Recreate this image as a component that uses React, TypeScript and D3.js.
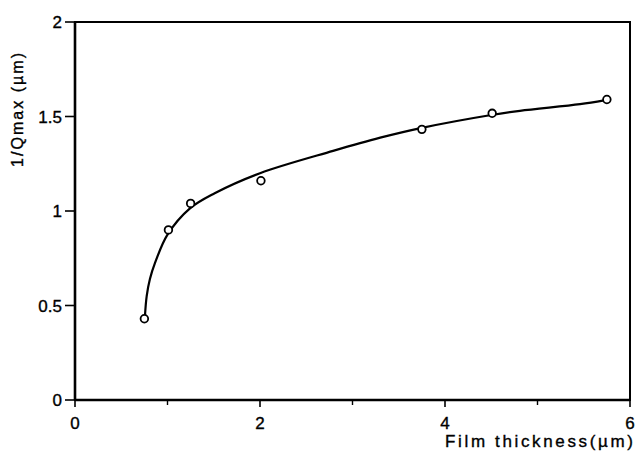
import React from "react";
import * as d3 from "d3";

const pointX = [0.75, 1.01, 1.25, 2.01, 3.75, 4.51, 5.75];
const pointY = [0.43, 0.9, 1.04, 1.16, 1.432, 1.517, 1.59];

const curveX = [0.757, 0.775, 0.81, 0.865, 1.0, 1.243, 1.51, 2.0, 2.79, 3.3, 3.75, 4.5, 4.81, 5.46, 5.72];
const curveY = [0.45, 0.55, 0.64, 0.725, 0.875, 1.014, 1.094, 1.2, 1.318, 1.388, 1.44, 1.508, 1.53, 1.565, 1.585];

const xTicks = [0, 2, 4, 6];
const xMinorTicks = [1, 3, 5];
const yTicks = [0, 0.5, 1, 1.5, 2];
const yTickLabels = ["0", "0.5", "1", "1.5", "2"];

export default function App() {
  const W = 643, H = 455;
  const left = 75, right = 630, top = 22, bottom = 400;
  const x = d3.scaleLinear().domain([0, 6]).range([left, right]);
  const y = d3.scaleLinear().domain([0, 2]).range([bottom, top]);
  const line = d3
    .line<number>()
    .x((_, i) => x(curveX[i]))
    .y((d) => y(d))
    .curve(d3.curveCatmullRom.alpha(0.5));
  const font = "'Liberation Sans', Arial, sans-serif";
  const txt = { fill: "#000", stroke: "#000", strokeWidth: 0.35 } as const;
  return (
    <svg
      width={W}
      height={H}
      style={{ position: "absolute", left: 0, top: 0, background: "#fff" }}
      fontFamily={font}
    >
      <rect x={0} y={0} width={W} height={H} fill="#fff" />
      {/* frame */}
      <rect x={left} y={top} width={right - left} height={bottom - top} fill="none" stroke="#000" strokeWidth={2} />
      <line x1={left} y1={top} x2={left} y2={bottom} stroke="#000" strokeWidth={2.6} />
      <line x1={left} y1={bottom} x2={right} y2={bottom} stroke="#000" strokeWidth={2.6} />
      {/* y ticks */}
      {yTicks.map((t, i) => (
        <g key={"y" + i}>
          <line x1={left - 10} x2={left} y1={y(t)} y2={y(t)} stroke="#000" strokeWidth={1.6} />
          <text x={62} y={y(t)} dy="0.36em" textAnchor="end" fontSize={17} {...txt}>
            {yTickLabels[i]}
          </text>
        </g>
      ))}
      {/* x ticks */}
      {xTicks.map((t, i) => (
        <g key={"x" + i}>
          <line x1={x(t)} x2={x(t)} y1={bottom} y2={bottom + 7} stroke="#000" strokeWidth={1.6} />
          <text x={x(t)} y={429} textAnchor="middle" fontSize={17} {...txt}>
            {t}
          </text>
        </g>
      ))}
      {xMinorTicks.map((t, i) => (
        <line key={"xm" + i} x1={x(t)} x2={x(t)} y1={bottom} y2={bottom + 5} stroke="#000" strokeWidth={1.4} />
      ))}
      {/* labels */}
      <text x={633} y={447} textAnchor="end" fontSize={17} textLength={188} lengthAdjust="spacing" {...txt}>
        Film thickness(µm)
      </text>
      <text
        transform={`translate(23,110) rotate(-90)`}
        textAnchor="middle"
        fontSize={16}
        textLength={114}
        lengthAdjust="spacing"
        {...txt}
      >
        1/Qmax (µm)
      </text>
      {/* curve */}
      <path d={line(curveY) || ""} fill="none" stroke="#000" strokeWidth={2.2} />
      {/* points */}
      {pointY.map((v, i) => (
        <circle key={"p" + i} cx={x(pointX[i])} cy={y(v)} r={3.8} fill="#fff" stroke="#000" strokeWidth={1.8} />
      ))}
    </svg>
  );
}
